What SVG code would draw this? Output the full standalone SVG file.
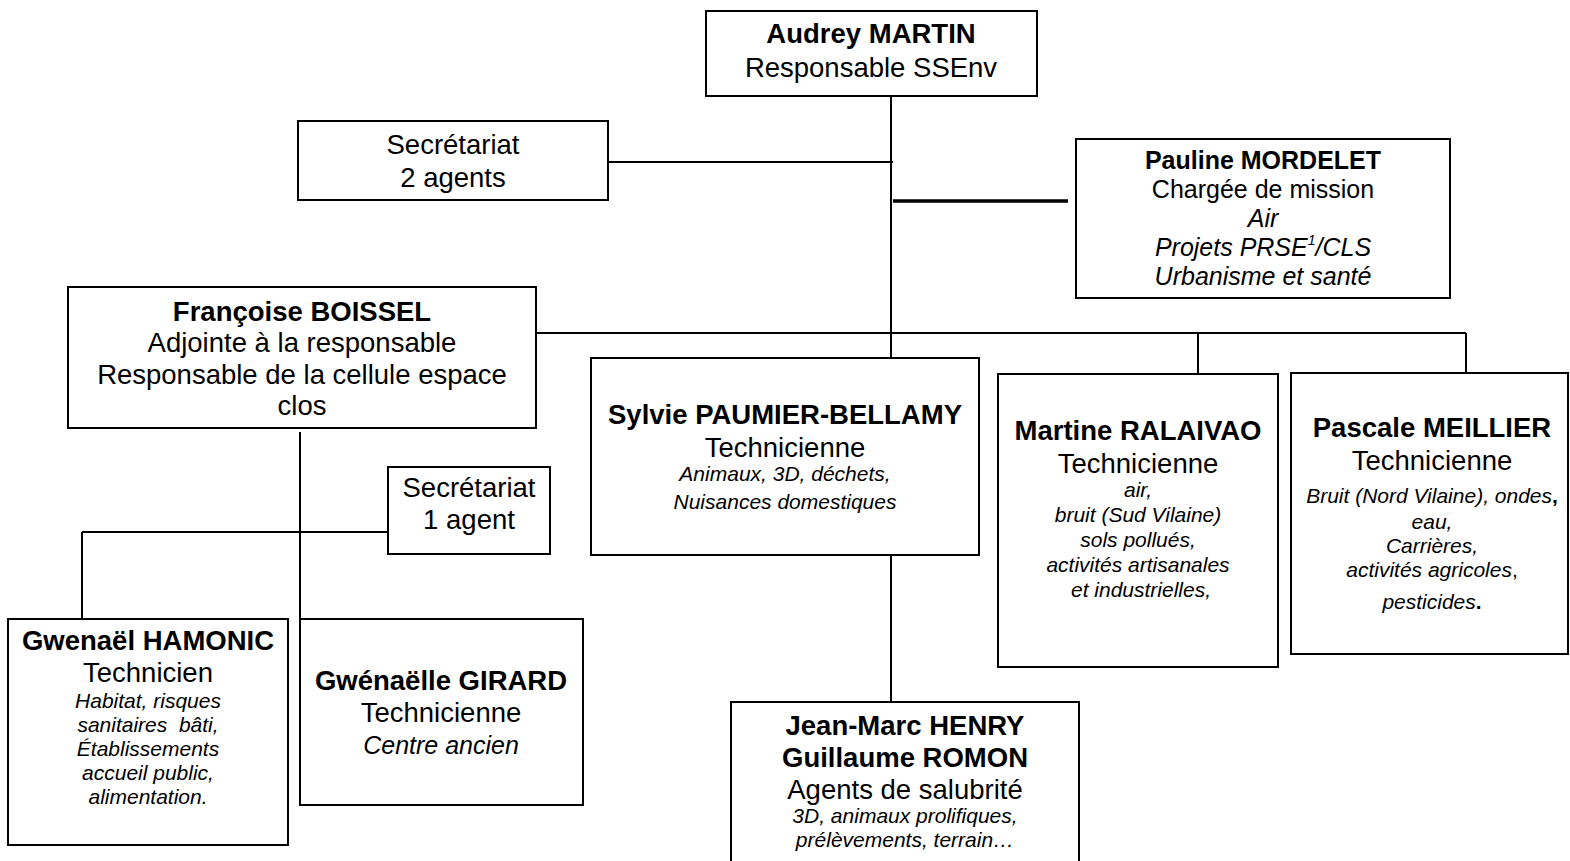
<svg xmlns="http://www.w3.org/2000/svg" width="1570" height="861" viewBox="0 0 1570 861">
<style>
.box{fill:#fff;stroke:#000;stroke-width:2}
.ln{stroke:#000;stroke-width:2;fill:none}
text{font-family:"Liberation Sans",Arial,sans-serif;fill:#000;text-anchor:middle}
.n{font-size:27.5px;font-weight:bold}
.r{font-size:27.5px}
.i{font-size:21px;font-style:italic}
.pn{font-size:25px;font-weight:bold}
.pr{font-size:25px}
.pi{font-size:25px;font-style:italic}
</style>
<rect width="1570" height="861" fill="#fff"/>
<g id="connectors">
<path class="ln" d="M891 96V358M608 162H893M891 555V702M536 333H1466M1198 333V374M1466 333V373M300 432V619M82 532H388M82 532V619"/>
<path d="M893 201H1068" stroke="#000" stroke-width="3.5"/>
</g>
<g id="audrey">
<rect class="box" x="706" y="11" width="331" height="85"/>
<text class="n" x="871" y="43">Audrey MARTIN</text>
<text class="r" x="871" y="77">Responsable SSEnv</text>
</g>
<g id="secretariat2">
<rect class="box" x="298" y="121" width="310" height="79"/>
<text class="r" x="453" y="154">Secrétariat</text>
<text class="r" x="453" y="187">2 agents</text>
</g>
<g id="pauline">
<rect class="box" x="1076" y="139" width="374" height="159"/>
<text class="pn" x="1263" y="169">Pauline MORDELET</text>
<text class="pr" x="1263" y="198">Chargée de mission</text>
<text class="pi" x="1263" y="227">Air</text>
<text class="pi" x="1263" y="256">Projets PRSE<tspan font-size="14" dy="-11">1</tspan><tspan dy="11">/CLS</tspan></text>
<text class="pi" x="1263" y="285">Urbanisme et santé</text>
</g>
<g id="francoise">
<rect class="box" x="68" y="287" width="468" height="141"/>
<text class="n" x="302" y="321">Françoise BOISSEL</text>
<text class="r" x="302" y="352">Adjointe à la responsable</text>
<text class="r" x="302" y="384">Responsable de la cellule espace</text>
<text class="r" x="302" y="415">clos</text>
</g>
<g id="secretariat1">
<rect class="box" x="388" y="467" width="162" height="87"/>
<text class="r" x="469" y="497">Secrétariat</text>
<text class="r" x="469" y="529">1 agent</text>
</g>
<g id="sylvie">
<rect class="box" x="591" y="358" width="388" height="197"/>
<text class="n" x="785" y="424">Sylvie PAUMIER-BELLAMY</text>
<text class="r" x="785" y="457">Technicienne</text>
<text class="i" x="785" y="481">Animaux, 3D, déchets,</text>
<text class="i" x="785" y="509">Nuisances domestiques</text>
</g>
<g id="martine">
<rect class="box" x="998" y="374" width="280" height="293"/>
<text class="n" x="1138" y="440">Martine RALAIVAO</text>
<text class="r" x="1138" y="473">Technicienne</text>
<text class="i" x="1138" y="497">air,</text>
<text class="i" x="1138" y="522">bruit (Sud Vilaine)</text>
<text class="i" x="1138" y="547">sols pollués,</text>
<text class="i" x="1138" y="572">activités artisanales</text>
<text class="i" x="1141" y="597">et industrielles,</text>
</g>
<g id="pascale">
<rect class="box" x="1291" y="373" width="277" height="281"/>
<text class="n" x="1432" y="437">Pascale MEILLIER</text>
<text class="r" x="1432" y="470">Technicienne</text>
<text class="i" x="1432" y="503">Bruit (Nord Vilaine), ondes<tspan font-style="normal" font-weight="bold">,</tspan></text>
<text class="i" x="1432" y="529">eau,</text>
<text class="i" x="1432" y="553">Carrières,</text>
<text class="i" x="1432" y="577">activités agricoles<tspan font-style="normal">,</tspan></text>
<text class="i" x="1432" y="609">pesticides<tspan font-style="normal" font-weight="bold">.</tspan></text>
</g>
<g id="gwenael">
<rect class="box" x="8" y="619" width="280" height="226"/>
<text class="n" x="148" y="650">Gwenaël HAMONIC</text>
<text class="r" x="148" y="682">Technicien</text>
<text class="i" x="148" y="708">Habitat, risques</text>
<text class="i" x="148" y="732" xml:space="preserve">sanitaires  bâti,</text>
<text class="i" x="148" y="756">Établissements</text>
<text class="i" x="148" y="780">accueil public,</text>
<text class="i" x="148" y="804">alimentation.</text>
</g>
<g id="gwenaelle">
<rect class="box" x="300" y="619" width="283" height="186"/>
<text class="n" x="441" y="690">Gwénaëlle GIRARD</text>
<text class="r" x="441" y="722">Technicienne</text>
<text class="pi" x="441" y="754">Centre ancien</text>
</g>
<g id="jeanmarc">
<rect class="box" x="731" y="702" width="348" height="170"/>
<text class="n" x="905" y="735">Jean-Marc HENRY</text>
<text class="n" x="905" y="767">Guillaume ROMON</text>
<text class="r" x="905" y="799">Agents de salubrité</text>
<text class="i" x="905" y="823">3D, animaux prolifiques,</text>
<text class="i" x="905" y="847">prélèvements, terrain…</text>
</g>
</svg>
